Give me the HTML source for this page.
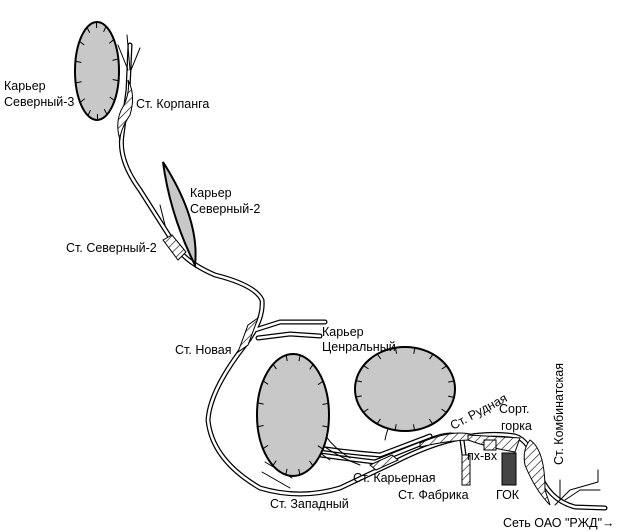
<!DOCTYPE html>
<html><head><meta charset="utf-8"><style>
body{margin:0;background:#fff}
svg{display:block}
text{font-family:"Liberation Sans",sans-serif;font-size:12.5px;fill:#000}
</style></head><body>
<svg id="s" width="624" height="532" viewBox="0 0 624 532" xmlns="http://www.w3.org/2000/svg">
<defs>
<pattern id="h" width="6" height="6" patternUnits="userSpaceOnUse" patternTransform="rotate(45)">
<rect width="6" height="6" fill="#fff"/><line x1="0" y1="0" x2="0" y2="6" stroke="#000" stroke-width="1.2"/></pattern>
</defs>
<g fill="none" stroke-linecap="round" stroke-linejoin="round">
<g id="trk">
<path d="M130,45 L128,90 L122,135 Q118,160 140,190 L175,245 Q185,262 215,275 Q255,285 262,300 Q264,320 245,345 Q210,390 208,420 Q212,460 260,488 Q300,500 340,488 L395,462 Q430,444 460,438 Q490,432 515,436 Q530,440 538,470 Q548,500 575,507 L605,508"/>
<path d="M255,330 L280,322 L325,322 M258,338 L290,334 L320,336"/>
<path d="M300,452 Q340,458 375,462 L430,440 M300,445 Q340,452 380,455 L430,436"/>
<path d="M430,440 Q455,430 462,440 L466,470"/>
</g>
<use href="#trk" stroke="#000" stroke-width="5"/>
<use href="#trk" stroke="#fff" stroke-width="2.5"/>
<g stroke="#000" stroke-width="1">
<path d="M127,35 L130,70 M118,45 L128,70 M140,48 L131,70"/>
<path d="M160,205 L165,225"/>
<path d="M265,462 L292,478 M262,472 L290,488"/>
<path d="M270,380 Q285,430 330,460 M295,420 Q320,450 360,465 M312,405 Q320,440 350,458"/>
<path d="M385,440 Q390,410 430,380"/>
<path d="M555,505 L570,490 L598,482 L598,470 M565,500 L580,490 L600,490"/>
<path d="M560,500 L560,480"/>
</g>
</g>
<g stroke="#000" stroke-width="2" fill="#c8c8c8">
<ellipse cx="97" cy="71" rx="22" ry="49"/>
<ellipse cx="293" cy="415" rx="36" ry="61"/>
<ellipse cx="405" cy="389" rx="50" ry="42"/>
<path d="M163,162 Q200,220 195,265 Q170,215 163,162Z"/>
</g>
<g id="ticks" stroke="#000" stroke-width="1"></g>
<g stroke="#000" stroke-width="1" fill="url(#h)">
<path d="M128,80 Q136,95 130,115 Q120,130 120,140 Q114,120 124,105 Q130,92 128,80Z"/>
<path d="M163,240 L172,235 L186,252 L178,260Z"/>
<path d="M248,325 L258,318 L248,345 L238,352Z"/>
<path d="M370,465 L392,455 L398,460 L376,470Z"/>
<path d="M420,443 Q450,430 470,434 L472,440 Q450,440 420,447Z"/>
<path d="M468,435 L520,438 L515,452 Q490,448 468,440Z"/>
<path d="M484,440 L496,440 L496,450 L484,450Z"/>
<path d="M462,455 L470,455 L470,485 L462,485Z"/>
<path d="M530,440 Q545,450 545,490 L550,505 Q535,490 525,465 Q522,450 530,440Z"/>
</g>
<rect x="502" y="453" width="14" height="32" fill="#444" stroke="#000"/>
<text x="4" y="90">Карьер</text><text x="4" y="106">Северный-3</text>
<text x="136" y="108">Ст. Корпанга</text>
<text x="190" y="197">Карьер</text><text x="190" y="213">Северный-2</text>
<text x="66" y="252">Ст. Северный-2</text>
<text x="322" y="336">Карьер</text><text x="322" y="351">Ценральный</text>
<text x="175" y="354">Ст. Новая</text>
<text x="453" y="430" transform="rotate(-28 453 430)">Ст. Рудная</text>
<text x="499" y="413">Сорт.</text><text x="501" y="430">горка</text>
<text x="563" y="465" transform="rotate(-90 563 465)">Ст. Комбинатская</text>
<text x="467" y="460">пх-вх</text>
<text x="353" y="482">Ст. Карьерная</text>
<text x="398" y="499">Ст. Фабрика</text>
<text x="496" y="499">ГОК</text>
<text x="270" y="508">Ст. Западный</text>
<text x="503" y="527">Сеть ОАО "РЖД"→</text>
</svg>
<script>
var g=document.getElementById('ticks'),E=[[97,71,22,49,14],[293,415,36,61,16],[405,389,50,42,16]],s='';
E.forEach(function(e){for(var i=0;i<e[4];i++){var t=2*Math.PI*i/e[4]+0.2,c=Math.cos(t),n=Math.sin(t);
var x1=e[0]+e[2]*c,y1=e[1]+e[3]*n,x2=e[0]+(e[2]-6)*c,y2=e[1]+(e[3]-6)*n;
s+='<line xmlns="http://www.w3.org/2000/svg" x1="'+x1+'" y1="'+y1+'" x2="'+x2+'" y2="'+y2+'"/>';}});
g.innerHTML=s;
</script>
</body></html>
